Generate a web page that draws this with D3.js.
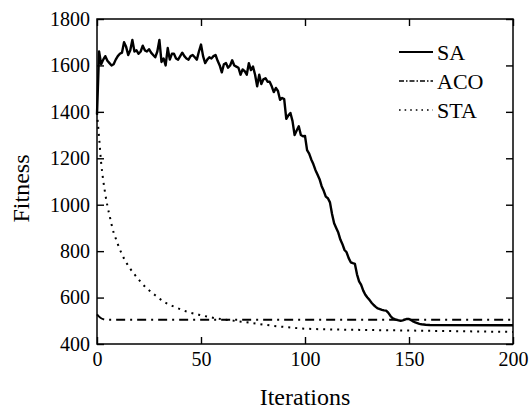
<!DOCTYPE html>
<html>
<head>
<meta charset="utf-8">
<script src="https://cdn.jsdelivr.net/npm/d3@7"></script>
</head>
<body style="margin:0;background:#fff">
<div id="chart"></div>
<script>
const width = 531, height = 409;
const margin = { top: 19, right: 18, bottom: 65, left: 97 };

// tick labels
const xTicks = [0, 50, 100, 150, 200];
const yTicks = [400, 600, 800, 1000, 1200, 1400, 1600, 1800];

// series: [iteration, fitness]
const saPoints = [
  [0,1390],[1,1660],[2,1605],[3,1625],[4,1640],[5,1620],[6,1610],[7,1600],[8,1605],[9,1625],
  [10,1640],[11,1650],[12,1655],[13,1700],[14,1680],[15,1645],[16,1665],[17,1710],[18,1660],[19,1665],
  [20,1650],[21,1660],[22,1685],[23,1665],[24,1660],[25,1670],[26,1655],[27,1645],[28,1635],[29,1660],
  [30,1710],[31,1615],[32,1630],[33,1600],[34,1675],[35,1625],[36,1650],[37,1650],[38,1630],[39,1625],
  [40,1640],[41,1655],[42,1640],[43,1630],[44,1625],[45,1640],[46,1645],[47,1635],[48,1625],[49,1660],
  [50,1690],[51,1640],[52,1610],[53,1625],[54,1635],[55,1630],[56,1640],[57,1645],[58,1620],[59,1600],
  [60,1570],[61,1605],[62,1610],[63,1590],[64,1600],[65,1622],[66,1600],[67,1595],[68,1590],[69,1560],
  [70,1583],[71,1575],[72,1560],[73,1610],[74,1580],[75,1595],[76,1560],[77,1510],[78,1560],[79,1520],
  [80,1540],[81,1545],[82,1530],[83,1530],[84,1510],[85,1485],[86,1503],[87,1490],[88,1452],[89,1460],
  [90,1455],[91,1370],[92,1385],[93,1395],[94,1360],[95,1300],[96,1320],[97,1338],[98,1300],[99,1295],
  [100,1296],[101,1235],[102,1220],[103,1195],[104,1175],[105,1150],[106,1130],[107,1110],[108,1080],[109,1060],
  [110,1035],[111,1028],[112,1010],[113,960],[114,920],[115,900],[116,880],[117,850],[118,830],[119,805],
  [120,795],[121,770],[122,752],[123,748],[124,745],[125,700],[126,670],[127,655],[128,630],[129,612],
  [130,600],[131,590],[132,578],[133,568],[134,560],[135,553],[136,550],[137,547],[138,545],[139,544],
  [140,535],[141,522],[142,512],[143,507],[144,504],[145,502],[146,500],[147,502],[148,505],[149,508],
  [150,508],[151,503],[152,497],[153,493],[154,490],[155,487],[156,485],[157,484],[158,483],[160,482],
  [200,481]
];
const acoPoints = [[0,528],[1,518],[2,511],[3,507],[4,505],[5,505],[200,505]];
const staPoints = [
  [0,1395],[1,1290],[2,1180],[3,1105],[4,1045],[5,995],[6,955],[7,915],[8,880],[9,855],
  [10,830],[12,786],[14,752],[16,724],[18,700],[20,678],[22,657],[25,632],[28,610],[32,583],
  [37,561],[43,540],[50,524],[57,511],[65,501],[74,491],[85,478],[92,472],[100,466],[125,461],
  [150,458],[175,455],[200,452]
];
const seriesNames = ["SA", "ACO", "STA"];

const FONT = "Liberation Serif";

const svg = d3.select("#chart").append("svg")
    .attr("width", width)
    .attr("height", height);

const x = d3.scaleLinear().domain([0, 200]).range([margin.left, width - margin.right]);
const y = d3.scaleLinear().domain([400, 1800]).range([height - margin.bottom, margin.top]);

const styles = {
  SA:  { dash: null, width: 2.4, curve: d3.curveLinear },
  ACO: { dash: "9,5,2,5", width: 2, curve: d3.curveMonotoneX },
  STA: { dash: "2,5", width: 2, curve: d3.curveMonotoneX }
};
const data = { SA: saPoints, ACO: acoPoints, STA: staPoints };

// lines
seriesNames.forEach(name => {
  const s = styles[name];
  const line = d3.line().x(d => x(d[0])).y(d => y(d[1])).curve(s.curve);
  svg.append("path")
      .datum(data[name])
      .attr("fill", "none")
      .attr("stroke", "#000")
      .attr("stroke-width", s.width)
      .attr("stroke-linejoin", "round")
      .attr("stroke-dasharray", s.dash)
      .attr("d", line);
});

// axes, ticks pointing inward
const tickLen = 7;
const fmt = d3.format("d");
svg.append("g")
    .attr("transform", `translate(0,${y(400)})`)
    .call(d3.axisBottom(x).tickValues(xTicks).tickFormat(fmt).tickSize(-tickLen).tickPadding(8).tickSizeOuter(0));
svg.append("g")
    .attr("transform", `translate(${x(0)},0)`)
    .call(d3.axisLeft(y).tickValues(yTicks).tickFormat(fmt).tickSize(-tickLen).tickPadding(7).tickSizeOuter(0));
svg.append("g")
    .attr("transform", `translate(0,${y(1800)})`)
    .call(d3.axisTop(x).tickValues(xTicks).tickSize(-tickLen).tickFormat("").tickSizeOuter(0));
svg.append("g")
    .attr("transform", `translate(${x(200)},0)`)
    .call(d3.axisRight(y).tickValues(yTicks).tickSize(-tickLen).tickFormat("").tickSizeOuter(0));

svg.selectAll(".domain").remove();
svg.selectAll(".tick line").attr("stroke", "#000").attr("stroke-width", 1.4);
svg.selectAll(".tick text")
    .attr("font-family", FONT)
    .attr("font-size", 20)
    .attr("fill", "#000");

svg.append("rect")
    .attr("x", x(0)).attr("y", y(1800))
    .attr("width", x(200) - x(0)).attr("height", y(400) - y(1800))
    .attr("fill", "none").attr("stroke", "#000").attr("stroke-width", 1.5);

// axis titles
svg.append("text")
    .attr("x", (x(0) + x(200)) / 2)
    .attr("y", 405)
    .attr("text-anchor", "middle")
    .attr("font-family", FONT)
    .attr("font-size", 24)
    .text("Iterations");
svg.append("text")
    .attr("transform", `translate(29,${(y(400) + y(1800)) / 2 + 7}) rotate(-90)`)
    .attr("text-anchor", "middle")
    .attr("font-family", FONT)
    .attr("font-size", 24)
    .text("Fitness");

// legend
const legend = svg.append("g").attr("transform", "translate(399,52)");
seriesNames.forEach((name, i) => {
  const row = legend.append("g").attr("transform", `translate(0,${i * 29})`);
  row.append("line")
      .attr("x1", 0).attr("x2", 34)
      .attr("stroke", "#000")
      .attr("stroke-width", name === "SA" ? 2 : 1.6)
      .attr("stroke-dasharray", name === "ACO" ? "5,2,1.5,2" : name === "STA" ? "1.6,4" : null);
  row.append("text")
      .attr("x", 38)
      .attr("y", 8)
      .attr("font-family", FONT)
      .attr("font-size", 22)
      .text(name);
});
</script>
</body>
</html>
